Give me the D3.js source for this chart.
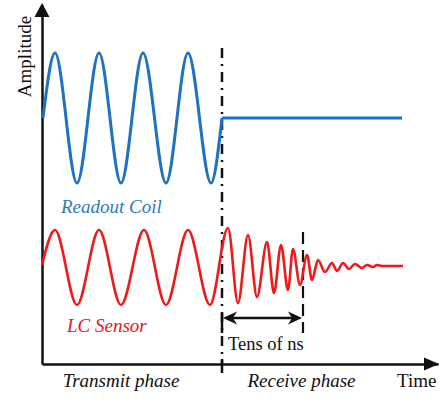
<!DOCTYPE html>
<html><head><meta charset="utf-8">
<script src="https://cdn.jsdelivr.net/npm/d3@7"></script>
<style>html,body{margin:0;padding:0;background:#fff}svg{display:block}</style>
</head><body><svg id="c" width="439" height="399"></svg>
<script>
// ---- data (time units, amplitude units) ----
const readoutTime = [1, 13, 35, 57, 79, 101, 124, 146, 169, 180];
const readoutAmp  = [246, 311, 181, 311, 181, 311, 181, 311, 181, 246];
const readoutIdleTime = [180, 360];
const readoutIdleAmp  = [246, 246];
const sensorTime = [0, 13, 35, 57, 79, 102, 124, 146, 168,
  186, 196, 206, 215, 225, 232, 239, 246, 251, 258,
  265, 270, 276, 283, 290, 295, 301, 307, 313, 320,
  325, 331, 335, 340, 361];
const sensorAmp = [99, 134, 59, 134, 59, 134, 59, 134, 59,
  136, 61, 129, 67, 122, 71, 119, 74, 115, 79,
  109, 84, 104, 92, 101, 93, 101, 95, 100, 96,
  99, 97, 99, 98, 98];
const phaseBoundary = 180;
const ringdownEnd = 261;
const seriesLabels = ["Readout Coil", "LC Sensor"];
const phaseLabels = ["Transmit phase", "Receive phase"];
const axisLabels = ["Time", "Amplitude"];
const spanLabel = "Tens of ns";

// ---- scales ----
const x = d3.scaleLinear().domain([0, 396]).range([42, 438]);
const y = d3.scaleLinear().domain([0, 359]).range([364, 5]);

const svg = d3.select("#c");
const BLUE = "#1f72c0", RED = "#f01818";
const serif = "'Liberation Serif','Times New Roman',serif";

const line = d3.line().x(d => x(d[0])).y(d => y(d[1])).curve(d3.curveMonotoneX);
const zip = (a, b) => a.map((v, i) => [v, b[i]]);

// ---- axes ----
const gx = svg.append("g").attr("transform", `translate(0,${y(0)})`)
  .call(d3.axisBottom(x).tickValues([]).tickSizeOuter(0));
const gy = svg.append("g").attr("transform", `translate(${x(0)},0)`)
  .call(d3.axisLeft(y).tickValues([]).tickSizeOuter(0));
[gx, gy].forEach(g => g.select(".domain").attr("stroke", "#111").attr("stroke-width", 2.5));

// arrowheads
const yTop = y(359), xEnd = x(396);
svg.append("path").attr("fill", "#111")
  .attr("d", `M${x(0)},${yTop - 2} L${x(0) - 7.5},${yTop + 12} L${x(0) + 7.5},${yTop + 12} Z`);
svg.append("path").attr("fill", "#111")
  .attr("d", `M${xEnd + 1},${y(0)} L${xEnd - 14},${y(0) - 6.5} L${xEnd - 14},${y(0) + 6.5} Z`);

// phase boundary tick + dash-dot line
svg.append("line").attr("x1", x(phaseBoundary)).attr("x2", x(phaseBoundary))
  .attr("y1", y(0) - 5).attr("y2", y(0) + 9).attr("stroke", "#111").attr("stroke-width", 2.5);
svg.append("line").attr("x1", x(phaseBoundary)).attr("x2", x(phaseBoundary))
  .attr("y1", y(316)).attr("y2", y(0))
  .attr("stroke", "#111").attr("stroke-width", 2.5).attr("stroke-dasharray", "10,6,2,6");

// ring-down end dashed line
svg.append("line").attr("x1", x(ringdownEnd)).attr("x2", x(ringdownEnd))
  .attr("y1", y(132)).attr("y2", y(31))
  .attr("stroke", "#111").attr("stroke-width", 2.2).attr("stroke-dasharray", "12,6");

// ---- signals ----
svg.append("path").attr("d", line(zip(readoutTime, readoutAmp)))
  .attr("fill", "none").attr("stroke", BLUE).attr("stroke-width", 3);
svg.append("path").attr("d", d3.line().x(d => x(d[0])).y(d => y(d[1]))(zip(readoutIdleTime, readoutIdleAmp)))
  .attr("fill", "none").attr("stroke", BLUE).attr("stroke-width", 3);
svg.append("path").attr("d", line(zip(sensorTime, sensorAmp)))
  .attr("fill", "none").attr("stroke", RED).attr("stroke-width", 2.6);

// ---- span arrow (Tens of ns) ----
const ax0 = x(phaseBoundary), ax1 = x(ringdownEnd), ay = y(46);
svg.append("line").attr("x1", ax0).attr("x2", ax0).attr("y1", y(51)).attr("y2", y(31))
  .attr("stroke", "#111").attr("stroke-width", 2.5);
svg.append("line").attr("x1", ax0 + 8).attr("x2", ax1 - 8).attr("y1", ay).attr("y2", ay)
  .attr("stroke", "#111").attr("stroke-width", 2.5);
svg.append("path").attr("fill", "#111")
  .attr("d", `M${ax0 + 1},${ay} L${ax0 + 15},${ay - 6.5} L${ax0 + 11},${ay} L${ax0 + 15},${ay + 6.5} Z`);
svg.append("path").attr("fill", "#111")
  .attr("d", `M${ax1 - 1},${ay} L${ax1 - 15},${ay - 6.5} L${ax1 - 11},${ay} L${ax1 - 15},${ay + 6.5} Z`);

// ---- text ----
const txt = (s, px, py, opts = {}) => svg.append("text").text(s)
  .attr("x", px).attr("y", py)
  .attr("font-family", serif).attr("font-size", opts.size || 19)
  .attr("font-style", opts.italic ? "italic" : "normal")
  .attr("fill", opts.fill || "#111")
  .attr("text-anchor", opts.anchor || "start");

txt(seriesLabels[0], 61, 213, { italic: true, fill: "#2a7bc4" });
txt(seriesLabels[1], 67, 332, { italic: true, fill: "#e8141b" });
txt(spanLabel, 228, 350, { size: 18.5 });
txt(phaseLabels[0], 121, 387, { italic: true, anchor: "middle" });
txt(phaseLabels[1], 301.5, 387, { italic: true, anchor: "middle" });
txt(axisLabels[0], 397, 387);
svg.append("text").text(axisLabels[1])
  .attr("transform", "translate(31,56.5) rotate(-90)")
  .attr("font-family", serif).attr("font-size", 19).attr("fill", "#111")
  .attr("text-anchor", "middle");
</script>
</body></html>
